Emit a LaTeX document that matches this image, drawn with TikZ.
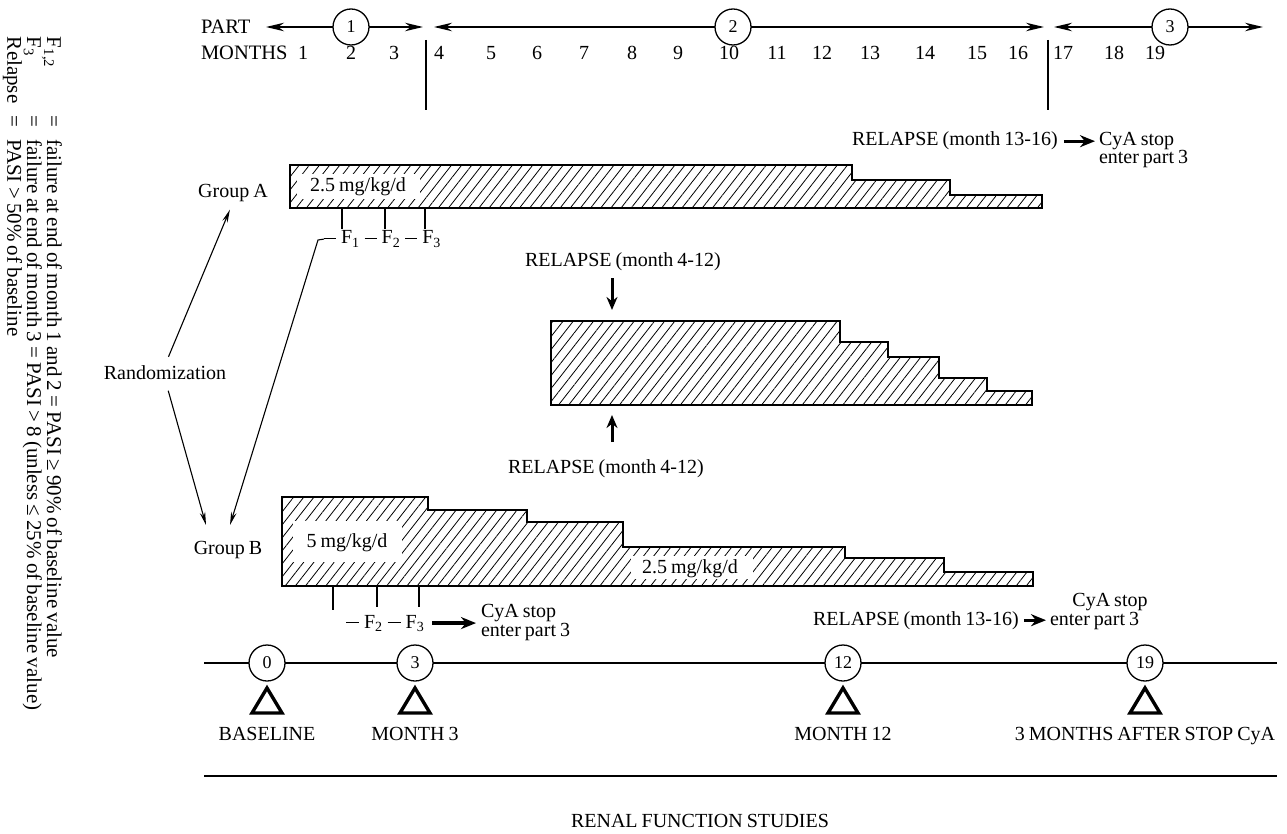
\documentclass[tikz,border=0pt]{standalone}
\usepackage{fontspec}
\setmainfont{Liberation Serif}[WordSpace=0.8]
\usetikzlibrary{arrows.meta,patterns.meta}
\begin{document}
\begin{tikzpicture}[x=1pt,y=-1pt,
  every node/.style={inner sep=0pt,outer sep=0pt},
  lbl/.style={font=\fontsize{20}{22}\selectfont,anchor=base},
  lblw/.style={font=\fontsize{20}{22}\selectfont,anchor=base west},
  num/.style={circle,draw,line width=1.3pt,minimum size=36pt,font=\fontsize{18}{20}\selectfont},
  mon/.style={font=\fontsize{20}{22}\selectfont,anchor=base},
  harr/.style={line width=1.5pt,-{Stealth[length=18pt,width=8.5pt]}},
  thinarr/.style={line width=1.1pt,-{Stealth[length=13pt,width=5.5pt]}},
  fatarr/.style={line width=3.2pt,-{Stealth[length=15pt,width=12pt]}},
  vfat/.style={line width=3pt,-{Stealth[length=13pt,width=11pt]}},
  bar/.style={draw,line width=1.7pt,pattern={Lines[angle=52,distance=8pt,line width=0.8pt]}},
  divline/.style={line width=1.8pt},
  tline/.style={line width=1.4pt},
  tickl/.style={line width=1.5pt},
  tri/.style={line width=3.4pt,line join=miter},
]
\useasboundingbox (0,0) rectangle (1287,834);

% ---------- legend (rotated) ----------
\node[rotate=-90,anchor=north west,font=\fontsize{21}{16}\selectfont] (legend) at (62,37) {%
\begin{tabular}{@{}l@{\hspace{12pt}}c@{\hspace{12pt}}l@{}}
F\textsubscript{1,2} & = & failure at end of month 1 and 2 = PASI ≥ 90\% of baseline value\\
F\textsubscript{3} & = & failure at end of month 3 = PASI > 8 (unless ≤ 25\% of baseline value)\\
Relapse & = & PASI > 50\% of baseline
\end{tabular}};

% ---------- header ----------
\node[lblw,font=\fontsize{20.5}{22}\selectfont] (part) at (201,34) {PART};
\node[num] (p1) at (351,27) {1};
\node[num] (p2) at (733,27) {2};
\node[num] (p3) at (1170,27) {3};
\coordinate (p1l) at (266,27); \coordinate (p1r) at (423,27);
\coordinate (p2l) at (434,27); \coordinate (p2r) at (1044,27);
\coordinate (p3l) at (1054,27); \coordinate (p3r) at (1263,27);
\draw[harr] (p1.west) -- (p1l);
\draw[harr] (p1.east) -- (p1r);
\draw[harr] (p2.west) -- (p2l);
\draw[harr] (p2.east) -- (p2r);
\draw[harr] (p3.west) -- (p3l);
\draw[harr] (p3.east) -- (p3r);

\node[lblw,font=\fontsize{20.5}{22}\selectfont] (months) at (201,60) {MONTHS};
\foreach \x/\m in {303/1,351/2,394/3,439/4,491/5,537/6,584/7,632/8,678/9,729/10,777/11,822/12,870/13,925/14,977/15,1018/16,1063/17,1114/18,1155/19}
  \node[mon] (m\m) at (\x,60) {\m};
\draw[divline] (426,40) -- (426,110);
\draw[divline] (1048,40) -- (1048,110);

% ---------- relapse 13-16 (top) ----------
\node[lblw] (relA) at (852,146) {RELAPSE (month 13-16)};
\node[lblw] (cyaA) at (1099,146) {CyA stop};
\node[lblw] (entA) at (1099,164) {enter part 3};
\draw[fatarr] ([xshift=6pt]relA.east) -- ([xshift=-4pt]relA.east -| cyaA.west);

% ---------- Group A ----------
\node[lbl] (ga) at (233,198) {Group A};
\draw[bar] (290,165) -- (852,165) -- (852,180) -- (950,180) -- (950,195) -- (1042,195) -- (1042,208) -- (290,208) -- cycle;
\fill[white] (297,174) rectangle (420,199);
\node[lbl] (doseA) at (358,192) {2.5 mg/kg/d};
\draw[tickl] (342,208) -- (342,229);
\draw[tickl] (385,208) -- (385,229);
\draw[tickl] (425,208) -- (425,229);
\node[lblw] (fA) at (324,244) {\rule[5pt]{12pt}{1pt}\hspace{5pt}F\textsubscript{1}\hspace{5pt}\rule[5pt]{12pt}{1pt}\hspace{5pt}F\textsubscript{2}\hspace{5pt}\rule[5pt]{12pt}{1pt}\hspace{5pt}F\textsubscript{3}};

% ---------- middle (relapse 4-12) ----------
\node[lblw] (relM1) at (525,266) {RELAPSE (month 4-12)};
\node[lblw] (relM2) at (508,473) {RELAPSE (month 4-12)};
\coordinate (dnTip) at (612,310);
\coordinate (upTip) at (612,415);
\draw[vfat,shorten <=8pt] (relM1.south -| dnTip) -- (dnTip);
\draw[vfat,shorten <=17pt] (relM2.north -| upTip) -- (upTip);
\draw[bar] (551,321) -- (840,321) -- (840,342) -- (888,342) -- (888,357) -- (939,357) -- (939,378) -- (987,378) -- (987,391) -- (1032,391) -- (1032,405) -- (551,405) -- cycle;

% ---------- Randomization ----------
\node[lbl] (rand) at (165,379) {Randomization};
\node[lbl] (gb) at (228,554) {Group B};
\coordinate (gbt1) at (206,525);
\coordinate (gbt2) at (230,525);
\draw[thinarr,shorten <=9pt,shorten >=8pt] (rand.north) -- (ga.south);
\draw[thinarr,shorten <=12pt] (rand.south) -- (gbt1);
\draw[thinarr] (fA.west) -- (318,240) -- (gbt2);

% ---------- Group B ----------
\draw[bar] (282,497) -- (428,497) -- (428,510) -- (527,510) -- (527,522) -- (623,522) -- (623,547) -- (845,547) -- (845,558) -- (944,558) -- (944,572) -- (1033,572) -- (1033,586) -- (282,586) -- cycle;
\fill[white] (293,521) rectangle (402,562);
\fill[white] (631,556) rectangle (753,579);
\node[lbl] (doseB1) at (347,547) {5 mg/kg/d};
\node[lbl] (doseB2) at (690,573) {2.5 mg/kg/d};
\draw[tickl] (333,586) -- (333,610);
\draw[tickl] (377,586) -- (377,607);
\draw[tickl] (419,586) -- (419,607);
\node[lblw] (fB) at (346,628) {\rule[5pt]{13pt}{1pt}\hspace{5pt}F\textsubscript{2}\hspace{5pt}\rule[5pt]{13pt}{1pt}\hspace{5pt}F\textsubscript{3}};
\node[lblw] (cyaB) at (481,617) {CyA stop};
\node[lblw] (entB) at (481,636) {enter part 3};
\draw[fatarr] ([xshift=8pt]fB.east) -- ([xshift=-5pt]fB.east -| cyaB.west);

% ---------- relapse 13-16 (bottom) ----------
\node[lblw] (relB) at (813,625) {RELAPSE (month 13-16)};
\node[lblw] (entC) at (1050,625) {enter part 3};
\node[lbl] (cyaC) at (1110,606) {CyA stop};
\draw[fatarr] ([xshift=5pt]relB.east) -- ([xshift=-4pt]relB.east -| entC.west);

% ---------- timeline ----------
\node[num] (c0) at (267,663) {0};
\node[num] (c3) at (415,663) {3};
\node[num] (c12) at (843,663) {12};
\node[num] (c19) at (1145,663) {19};
\coordinate (tlL) at (204,663);
\coordinate (tlR) at (1277,663);
\draw[tline] (tlL) -- (c0.west);
\draw[tline] (c0.east) -- (c3.west);
\draw[tline] (c3.east) -- (c12.west);
\draw[tline] (c12.east) -- (c19.west);
\draw[tline] (c19.east) -- (tlR);
\foreach \x in {267,415,843,1145}
  \draw[tri] ({\x-15},713) -- (\x,688) -- ({\x+15},713) -- cycle;
\node[lbl] (bl) at (267,740) {BASELINE};
\node[lbl] (m3) at (415,740) {MONTH 3};
\node[lbl] (m12) at (843,740) {MONTH 12};
\node[lbl] (after) at (1145,740) {3 MONTHS AFTER STOP CyA};
\coordinate (rL) at (204,776);
\coordinate (rR) at (1277,776);
\draw[tline] (rL) -- (rR);
\node[lbl] (renal) at (700,827) {RENAL FUNCTION STUDIES};
\end{tikzpicture}
\end{document}
